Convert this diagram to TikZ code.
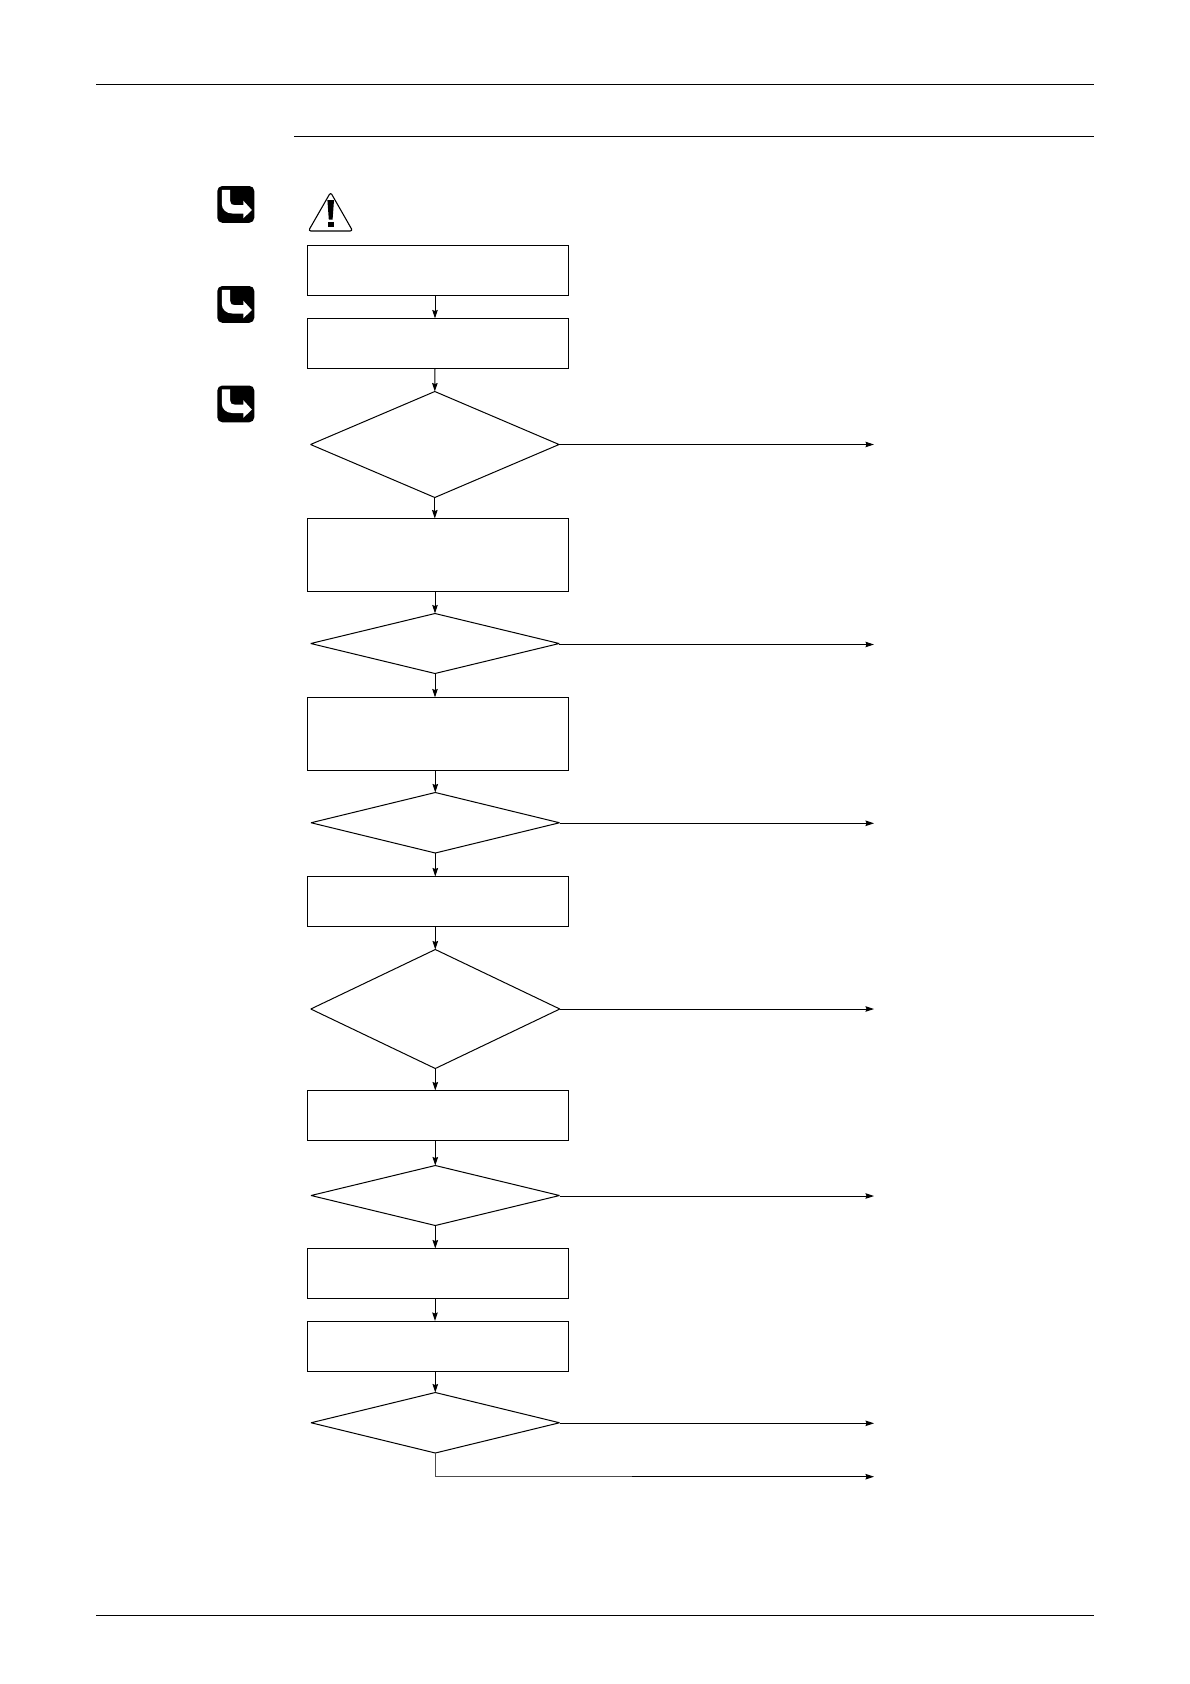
\documentclass[tikz,border=0pt]{standalone}
\usetikzlibrary{arrows.meta,shapes.geometric}
\tikzset{
  stepbox/.style={draw=black,line width=1pt,fill=white,rectangle,inner sep=0pt,outer sep=0pt,minimum width=261.5pt},
  choice/.style={draw=black,line width=1pt,fill=white,diamond,inner sep=0pt,outer sep=0pt,aspect=1,miter limit=2},
  flow/.style={draw=black,line width=1pt,-{Stealth[length=8.5pt,width=5.5pt,inset=1pt]}},
  rule/.style={draw=black,line width=1pt},
  badge/.style={fill=black,rounded corners=5pt},
  badgearrow/.style={fill=white,draw=none}
}
\newcommand{\boxat}[3]{\node[stepbox,minimum height=#3 pt-#2 pt] (#1) at (438,{(#2+#3)/2}) {};}
\newcommand{\choiceat}[5]{\node[choice,minimum width=#4 pt,minimum height=#3 pt-#2 pt] (#1) at (#5,{(#2+#3)/2}) {};}
\newcommand{\badgeat}[1]{%
  \begin{scope}[shift={(217.3,#1)}]
    \fill[badge] (0,0) rectangle (37,36.8);
    \path[badgearrow] (4.5,3.8) -- (12.9,3.8) -- (12.9,15) .. controls (12.9,18) and (14.5,19) .. (17,19) -- (26,19) -- (26,14.7) -- (34.5,24) -- (26,32.4) -- (26,27.5) -- (15,27.5) .. controls (9,27.5) and (4.5,23.5) .. (4.5,18) -- cycle;
  \end{scope}}
\begin{document}
\begin{tikzpicture}[x=1pt,y=-1pt]
\useasboundingbox[fill=white] (0,0) rectangle (1190,1684);
\coordinate (sp) at (435,0);
% page rules
\coordinate (r1a) at (96,84.5); \coordinate (r1b) at (1094,84.5);
\coordinate (r2a) at (294,136.5); \coordinate (r2b) at (1094,136.5);
\coordinate (r3a) at (96,1615.5); \coordinate (r3b) at (1094,1615.5);
\draw[rule] (r1a) -- (r1b);
\draw[rule] (r2a) -- (r2b);
\draw[rule] (r3a) -- (r3b);
% badges
\badgeat{186}
\badgeat{286}
\badgeat{385.5}
% warning triangle
\draw[line width=1.1pt,line join=round,rounded corners=2.5pt,fill=white] (330.6,192.3) -- (352.7,231) -- (308.4,231) -- cycle;
\fill[black] (327.4,200) -- (334,200) -- (332.6,219.5) -- (328.8,219.5) -- cycle;
\fill[black] (327.7,221.8) rectangle (333.8,227);
% boxes
\boxat{b1}{245.5}{295.5}
\boxat{b2}{318.5}{368.5}
\boxat{b3}{518.5}{591}
\boxat{b4}{697.5}{770}
\boxat{b5}{876.5}{926.5}
\boxat{b6}{1090.5}{1140.5}
\boxat{b7}{1248.5}{1298.5}
\boxat{b8}{1321}{1371.5}
% decisions
\choiceat{d1}{391.5}{497.5}{248.5}{434.8}
\choiceat{d2}{613.5}{673.5}{248.5}{435}
\choiceat{d3}{792.5}{853}{248.5}{435.3}
\choiceat{d4}{949.5}{1068.5}{249}{435.3}
\choiceat{d5}{1165.5}{1225.5}{248.5}{435.3}
\choiceat{d6}{1392.5}{1453}{248.5}{435.3}
% right-hand free ends
\coordinate (t1) at (874,444.5);
\coordinate (t2) at (874,644.5);
\coordinate (t3) at (874,823.3);
\coordinate (t4) at (874,1009);
\coordinate (t5) at (874,1196);
\coordinate (t6) at (874,1423.3);
\coordinate (t7) at (874,1476.7);
\coordinate (bend) at (632,1476.7);
% vertical connectors
\draw[flow] (b1.south -| sp) -- (b2.north -| sp);
\draw[flow] (b2.south -| sp) -- (d1.north);
\draw[flow] (d1.south) -- (b3.north -| d1.south);
\draw[flow] (b3.south -| d2.north) -- (d2.north);
\draw[flow] (d2.south) -- (b4.north -| d2.south);
\draw[flow] (b4.south -| d3.north) -- (d3.north);
\draw[flow] (d3.south) -- (b5.north -| d3.south);
\draw[flow] (b5.south -| d4.north) -- (d4.north);
\draw[flow] (d4.south) -- (b6.north -| d4.south);
\draw[flow] (b6.south -| d5.north) -- (d5.north);
\draw[flow] (d5.south) -- (b7.north -| d5.south);
\draw[flow] (b7.south -| sp) -- (b8.north -| sp);
\draw[flow] (b8.south -| d6.north) -- (d6.north);
% right-hand connectors
\draw[flow] (d1.east |- t1) -- (t1);
\draw[flow] (d2.east |- t2) -- (t2);
\draw[flow] (d3.east |- t3) -- (t3);
\draw[flow] (d4.east |- t4) -- (t4);
\draw[flow] (d5.east |- t5) -- (t5);
\draw[flow] (d6.east |- t6) -- (t6);
\draw[line width=1pt,color=black!70] (d6.south) |- (bend);
\draw[flow] (bend) -- (t7);
\end{tikzpicture}
\end{document}
